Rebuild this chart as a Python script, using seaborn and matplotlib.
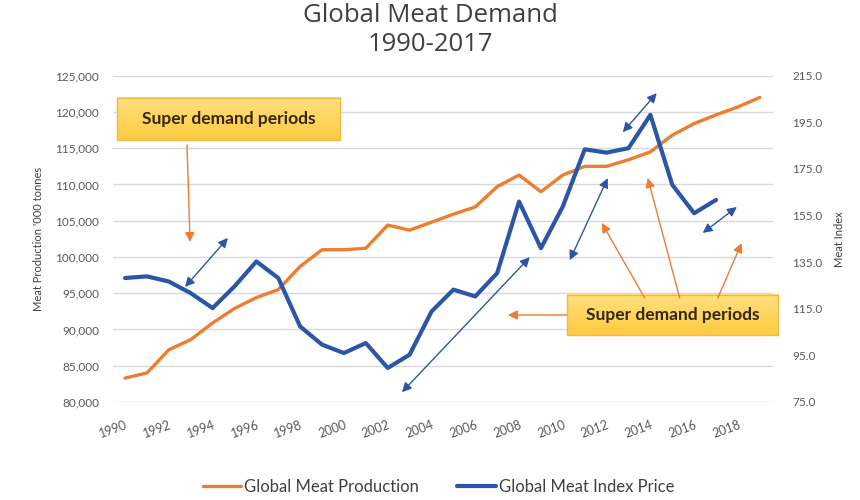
import numpy as np
import pandas as pd
import matplotlib.pyplot as plt
import matplotlib.ticker as mticker
from matplotlib.colors import LinearSegmentedColormap
from matplotlib.patches import Rectangle
import seaborn as sns

# data
prod_years = list(range(1990, 2020))
production = [83300, 84000, 87200, 88600, 90900, 92900, 94400, 95500, 98700, 101000,
              101000, 101200, 104400, 103700, 104800, 105900, 106900, 109700, 111300, 109000,
              111300, 112500, 112500, 113400, 114500, 116800, 118400, 119600, 120700, 122000]
index_years = list(range(1990, 2018))
meat_index = [128.2, 128.9, 126.7, 121.7, 115.3, 124.6, 135.3, 128.2, 107.4, 99.6,
              96.0, 100.3, 89.6, 95.3, 113.8, 123.2, 120.3, 130.3, 161.0, 141.0,
              158.9, 183.4, 182.0, 183.9, 198.2, 168.2, 156.0, 161.7]
x_ticks = list(range(1990, 2019, 2))
left_ticks = list(range(80000, 125001, 5000))
right_ticks = [75, 95, 115, 135, 155, 175, 195, 215]

ORANGE = '#ED7D31'
BLUE = '#2B55A7'
GREY = '#595959'

sns.set_theme(style='white')
plt.rcParams['font.family'] = ['Lato', 'DejaVu Sans']

df_prod = pd.DataFrame({'year': prod_years, 'value': production})
df_idx = pd.DataFrame({'year': index_years, 'value': meat_index})

fig = plt.figure(figsize=(8.6, 5), dpi=100)
ax = fig.add_axes([0.1314, 0.196, 0.7674, 0.6526])
ax2 = ax.twinx()

sns.lineplot(data=df_prod, x='year', y='value', ax=ax, color=ORANGE, lw=2.4,
             label='Global Meat Production', legend=False)
sns.lineplot(data=df_idx, x='year', y='value', ax=ax2, color=BLUE, lw=3.0,
             label='Global Meat Index Price', legend=False)

# annotation boxes (gradient fill, drawn in left-axis data units)
T = ax.transData
grad_cmap = LinearSegmentedColormap.from_list('box', ['#FFCA42', '#FFE07E'])
grad = np.linspace(0, 1, 64).reshape(-1, 1)
boxes = [(1989.63, 116130, 1999.82, 121930), (2010.18, 89240, 2019.82, 94760)]
for (x0, y0, x1, y1) in boxes:
    ax.imshow(grad, cmap=grad_cmap, extent=(x0, x1, y0, y1), origin='lower',
              aspect='auto', clip_on=False, zorder=5)
    ax.add_patch(Rectangle((x0, y0), x1 - x0, y1 - y0, fc='none', ec='#EDBB45',
                           lw=1, clip_on=False, zorder=6))
    ax.text((x0 + x1) / 2, (y0 + y1) / 2, 'Super demand periods', ha='center',
            va='center', fontsize=12.5, fontweight='bold', color='#33280F', zorder=7)

ax.set_xlim(1989.45, 2019.6)
ax.set_ylim(80000, 125000)
ax2.set_ylim(75, 215)
ax.set_xticks(x_ticks)
ax.set_yticks(left_ticks)
ax2.set_yticks(right_ticks)
ax.yaxis.set_major_formatter(mticker.FuncFormatter(lambda v, p: f'{int(v):,}'))
ax2.yaxis.set_major_formatter(mticker.FormatStrFormatter('%.1f'))

ax.grid(axis='y', color='#D9D9D9', lw=1)
ax.grid(axis='x', visible=False)
for a in (ax, ax2):
    for s in a.spines.values():
        s.set_visible(False)
    a.tick_params(length=0, labelsize=8.5, labelcolor=GREY)
ax.tick_params(axis='y', pad=10)
ax2.tick_params(axis='y', pad=14)
for lbl in ax.get_xticklabels():
    lbl.set_rotation(20)
    lbl.set_ha('right')
    lbl.set_rotation_mode('anchor')
ax.tick_params(axis='x', pad=12, labelsize=9)

ax.set_xlabel('')
ax.set_ylabel("Meat Production '000 tonnes", fontsize=8, color='#404040', labelpad=8)
ax2.set_ylabel('Meat Index', fontsize=8, color='#404040', labelpad=8)

fig.suptitle('Global Meat Demand\n1990-2017', y=0.993, fontsize=18.5, color='#404040',
             linespacing=1.2, family=['Open Sans', 'DejaVu Sans'])

orange_arrows = [((1992.83, 115440), (1992.97, 102070)),
                 ((2010.18, 92000), (2007.49, 92000)),
                 ((2013.74, 94350), (2011.78, 104690)),
                 ((2015.34, 94350), (2013.88, 110900)),
                 ((2017.08, 94350), (2018.17, 101930))]
for start, end in orange_arrows:
    ax2.annotate('', xy=end, xytext=start, xycoords=T, textcoords=T,
                 arrowprops=dict(arrowstyle='-|>', color=ORANGE, lw=1, mutation_scale=14,
                                 shrinkA=0, shrinkB=0))

blue_arrows = [((1992.74, 95860), (1994.70, 102620)),
               ((2002.65, 81350), (2008.49, 99970)),
               ((2010.32, 99560), (2012.05, 110870)),
               ((2012.74, 117210), (2014.29, 122600)),
               ((2016.39, 103310), (2017.95, 106890))]
for start, end in blue_arrows:
    ax2.annotate('', xy=end, xytext=start, xycoords=T, textcoords=T,
                 arrowprops=dict(arrowstyle='<|-|>', color=BLUE, lw=1, mutation_scale=14,
                                 shrinkA=0, shrinkB=0))

h1, l1 = ax.get_legend_handles_labels()
h2, l2 = ax2.get_legend_handles_labels()
fig.legend(h1 + h2, l1 + l2, loc='center', bbox_to_anchor=(0.51, 0.027), ncol=2,
           frameon=False, fontsize=12, handlelength=2.3, handletextpad=0.2,
           columnspacing=2.3, labelcolor='#404040')

fig.savefig('out.png', dpi=100)
